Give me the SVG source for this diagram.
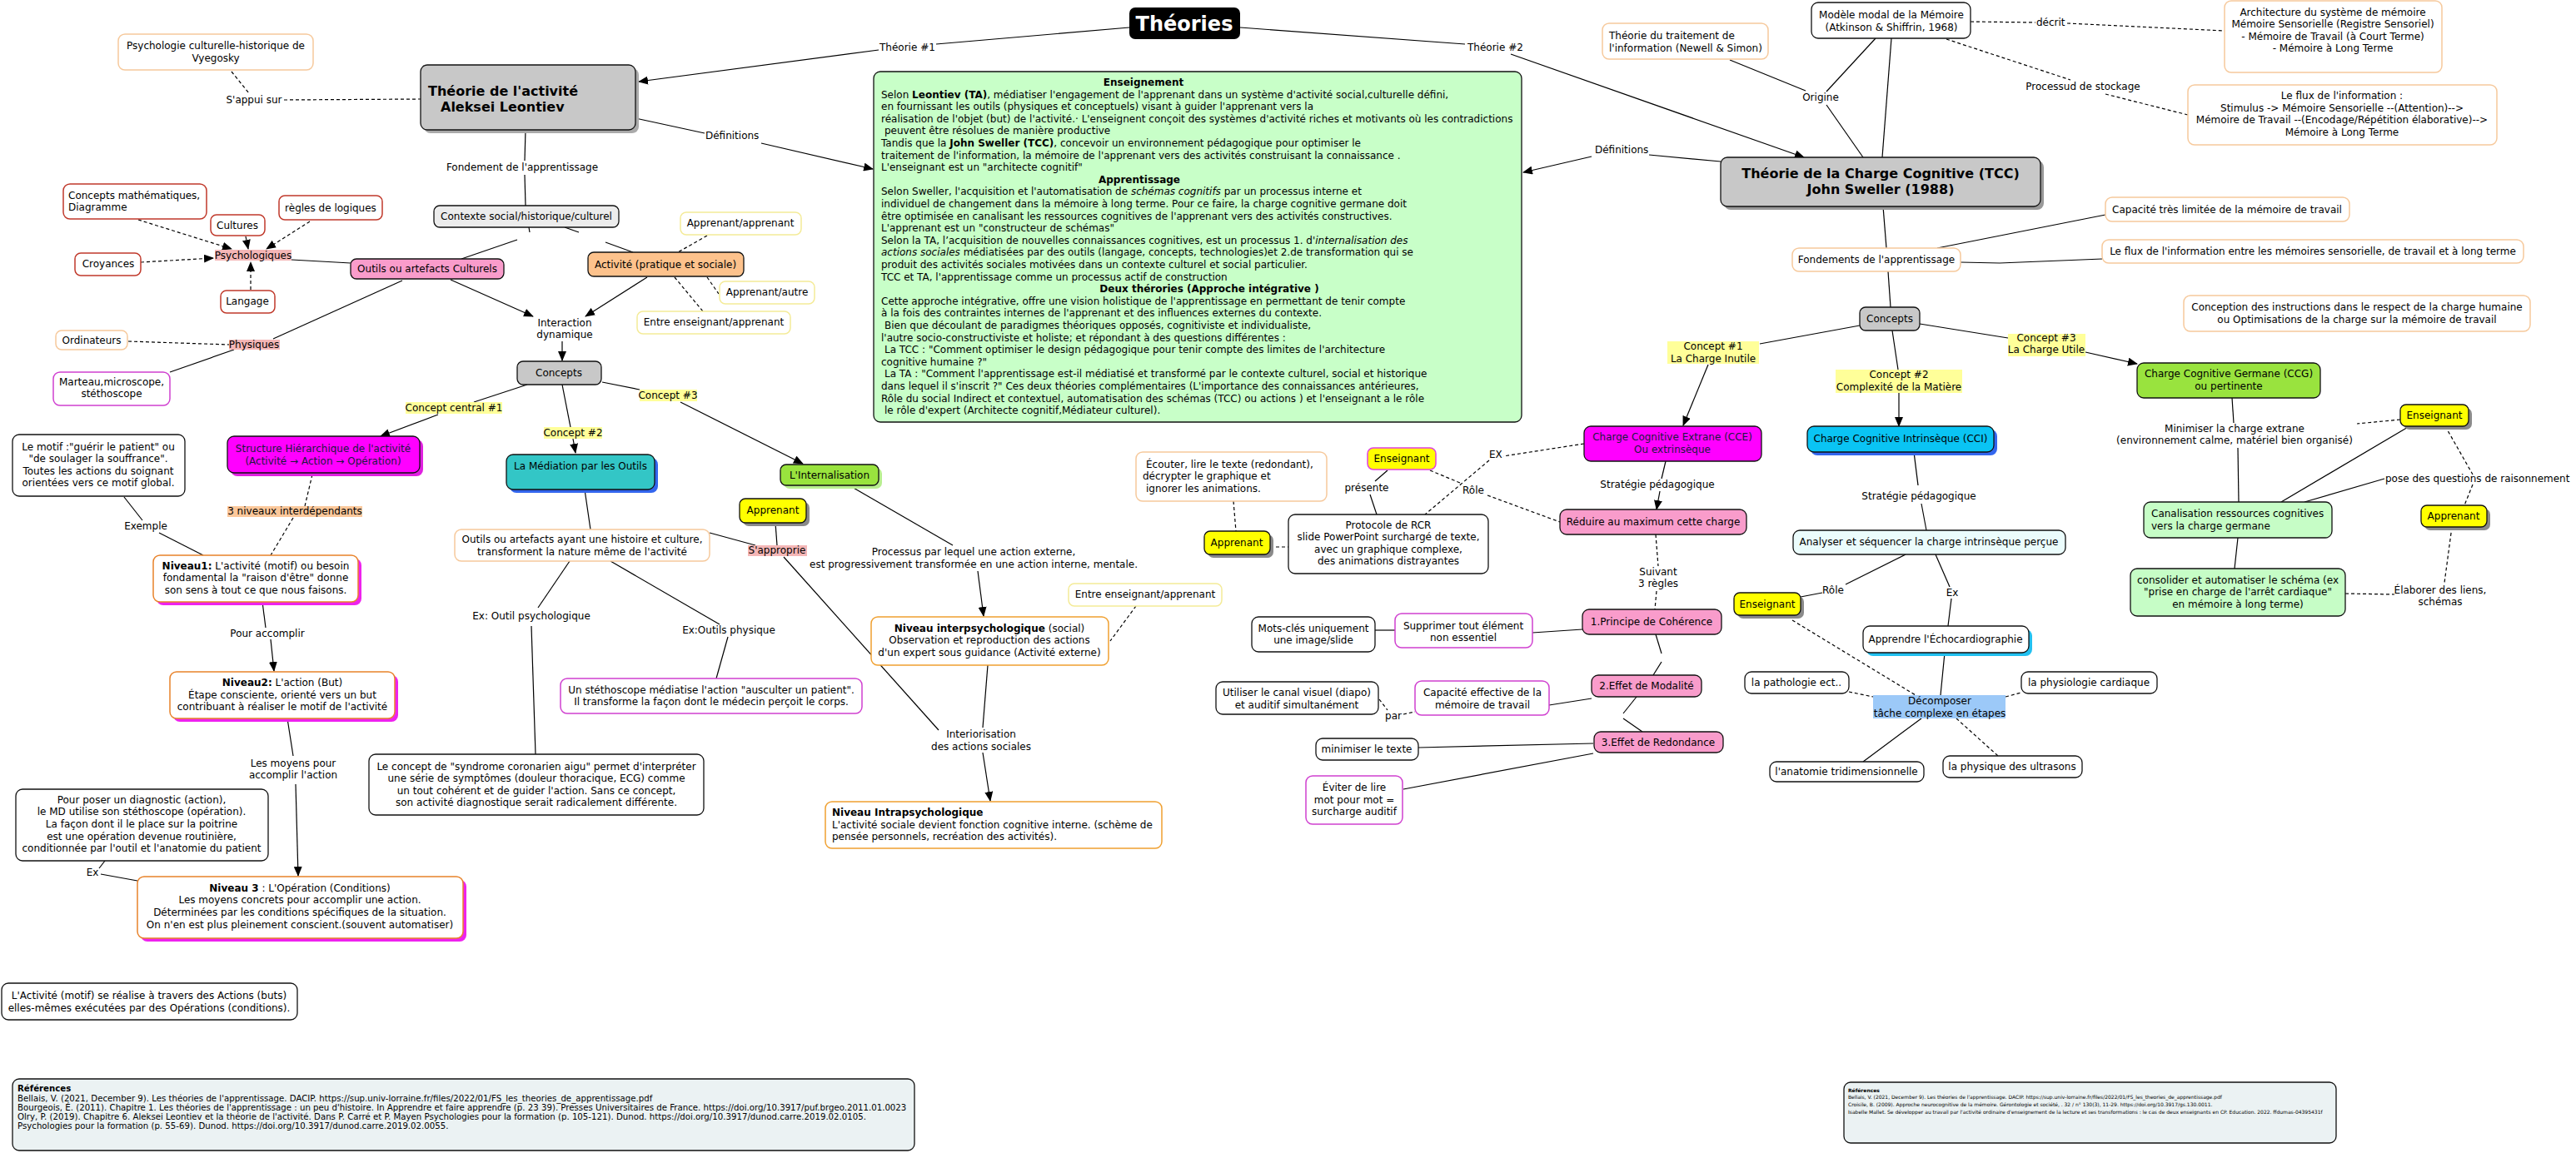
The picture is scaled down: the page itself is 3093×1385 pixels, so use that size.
<svg xmlns="http://www.w3.org/2000/svg" width="3093" height="1385" viewBox="0 0 3093 1385">
<defs>
<marker id="ah" markerUnits="userSpaceOnUse" markerWidth="12" markerHeight="10" refX="11" refY="5" orient="auto"><path d="M0,0 L12,5 L0,10 z" fill="#000"/></marker>
<style>
text{font-family:"DejaVu Sans",Verdana,sans-serif;font-size:12px;fill:#000}
.m{text-anchor:middle}
.b{font-weight:bold}
.i{font-style:italic}
.l{stroke:#000;stroke-width:1.2;fill:none}
.d{stroke:#000;stroke-width:1.2;fill:none;stroke-dasharray:4 3}
.a{marker-end:url(#ah)}
.k{fill:#fff;stroke:#111;stroke-width:1.3}
.o{fill:#fff;stroke:#f6c99c;stroke-width:1.5}
.y{fill:#fff;stroke:#f4eb98;stroke-width:1.5}
.r{fill:#fff;stroke:#c0392b;stroke-width:1.5}
.mg{fill:#fff;stroke:#d040d0;stroke-width:1.5}
.gr{fill:#c8c8c8;stroke:#111;stroke-width:1.3}
.pk{fill:#f99ccb;stroke:#111;stroke-width:1.3}
.yl{fill:#ffff00;stroke:#111;stroke-width:1.3}
.sh{fill:#8a8a8a}
.lbp{fill:#f4b6b6}
.lby{fill:#ffff99}
.lgt{fill:#c6fdc6;stroke:#111;stroke-width:1.3}
.nv{fill:#fff;stroke:#e8822a;stroke-width:1.5}
.ni{fill:#fff;stroke:#f0a030;stroke-width:1.5}
.ns{fill:#ee22ee}
.ref{fill:#ebf2f3;stroke:#111;stroke-width:1.3}
.rl{font-size:10.2px}
.rr{font-size:6px}
</style>
</defs>
<rect width="3093" height="1385" fill="#fff"/>

<g id="connectors">
<line class="l" x1="1356" y1="33" x2="1124" y2="53"/>
<line class="l a" x1="1055" y1="60" x2="767" y2="98"/>
<line class="l" x1="1489" y1="33" x2="1759" y2="53"/>
<line class="l a" x1="1814" y1="65" x2="2166" y2="189"/>
<line class="l" x1="763" y1="142" x2="846" y2="160"/>
<line class="l a" x1="914" y1="172" x2="1048" y2="203"/>
<line class="l" x1="2066" y1="194" x2="1980" y2="186"/>
<line class="l a" x1="1911" y1="188" x2="1829" y2="207"/>
<line class="d" x1="278" y1="86" x2="299" y2="112"/>
<line class="d" x1="341" y1="120" x2="505" y2="119"/>
<line class="l" x1="631" y1="156" x2="630" y2="193"/>
<line class="l" x1="630" y1="210" x2="631" y2="247"/>
<line class="d" x1="849" y1="283" x2="814" y2="303"/>
<line class="d" x1="849" y1="333" x2="863" y2="353"/>
<line class="d" x1="810" y1="333" x2="844" y2="374"/>
<line class="l" x1="635" y1="273" x2="636" y2="279"/>
<line class="l" x1="678" y1="273" x2="695" y2="279"/>
<line class="l" x1="621" y1="288" x2="554" y2="311"/>
<line class="l" x1="727" y1="291" x2="760" y2="303"/>
<line class="l" x1="421" y1="316" x2="350" y2="312"/>
<line class="d a" x1="166" y1="264" x2="278" y2="299"/>
<line class="d a" x1="295" y1="284" x2="298" y2="299"/>
<line class="d a" x1="372" y1="266" x2="320" y2="299"/>
<line class="d a" x1="169" y1="315" x2="256" y2="310"/>
<line class="d a" x1="301" y1="348" x2="301" y2="315"/>
<line class="l a" x1="541" y1="336" x2="640" y2="380"/>
<line class="l a" x1="777" y1="333" x2="703" y2="380"/>
<line class="l a" x1="675" y1="410" x2="675" y2="433"/>
<line class="d" x1="154" y1="410" x2="275" y2="414"/>
<line class="l" x1="483" y1="337" x2="328" y2="407"/>
<line class="l" x1="281" y1="420" x2="204" y2="447"/>
<line class="l" x1="633" y1="462" x2="569" y2="483"/>
<line class="l a" x1="526" y1="498" x2="457" y2="524"/>
<line class="l" x1="675" y1="462" x2="685" y2="513"/>
<line class="l a" x1="688" y1="527" x2="691" y2="544"/>
<line class="l" x1="723" y1="459" x2="768" y2="468"/>
<line class="l a" x1="817" y1="483" x2="964" y2="557"/>
<line class="l" x1="149" y1="597" x2="171" y2="625"/>
<line class="l" x1="191" y1="640" x2="244" y2="667"/>
<line class="d" x1="375" y1="570" x2="366" y2="608"/>
<line class="d" x1="352" y1="622" x2="325" y2="667"/>
<line class="l" x1="315" y1="723" x2="319" y2="754"/>
<line class="l a" x1="325" y1="768" x2="329" y2="806"/>
<line class="l" x1="345" y1="863" x2="352" y2="908"/>
<line class="l a" x1="355" y1="942" x2="358" y2="1052"/>
<line class="l" x1="126" y1="1034" x2="119" y2="1043"/>
<line class="l" x1="121" y1="1050" x2="165" y2="1058"/>
<line class="l" x1="702" y1="588" x2="709" y2="636"/>
<line class="l" x1="684" y1="674" x2="646" y2="730"/>
<line class="l" x1="638" y1="752" x2="643" y2="906"/>
<line class="l" x1="733" y1="674" x2="864" y2="750"/>
<line class="l" x1="874" y1="765" x2="860" y2="815"/>
<line class="l" x1="852" y1="640" x2="907" y2="655"/>
<line class="l" x1="931" y1="628" x2="933" y2="655"/>
<line class="l" x1="941" y1="669" x2="1127" y2="877"/>
<line class="l" x1="1023" y1="585" x2="1144" y2="655"/>
<line class="l a" x1="1174" y1="686" x2="1181" y2="740"/>
<line class="d" x1="1364" y1="728" x2="1333" y2="770"/>
<line class="l" x1="1186" y1="799" x2="1180" y2="874"/>
<line class="l a" x1="1180" y1="904" x2="1189" y2="962"/>
<line class="l" x1="2077" y1="72" x2="2168" y2="109"/>
<line class="l" x1="2252" y1="46" x2="2193" y2="110"/>
<line class="l" x1="2193" y1="126" x2="2237" y2="189"/>
<line class="l" x1="2271" y1="46" x2="2260" y2="189"/>
<line class="d" x1="2366" y1="26" x2="2444" y2="27"/>
<line class="d" x1="2482" y1="28" x2="2671" y2="37"/>
<line class="d" x1="2337" y1="47" x2="2486" y2="96"/>
<line class="d" x1="2528" y1="113" x2="2627" y2="138"/>
<line class="l" x1="2261" y1="248" x2="2265" y2="298"/>
<line class="l" x1="2326" y1="298" x2="2528" y2="258"/>
<polyline class="l" points="2354,315 2401,316 2524,311"/>
<line class="l" x1="2267" y1="326" x2="2270" y2="369"/>
<line class="l" x1="2233" y1="391" x2="2113" y2="413"/>
<line class="l a" x1="2051" y1="438" x2="2021" y2="511"/>
<line class="l" x1="2272" y1="397" x2="2279" y2="444"/>
<line class="l a" x1="2280" y1="472" x2="2280" y2="512"/>
<line class="l" x1="2305" y1="389" x2="2411" y2="406"/>
<line class="l a" x1="2504" y1="423" x2="2566" y2="437"/>
<line class="l" x1="2000" y1="554" x2="1995" y2="575"/>
<line class="l a" x1="1993" y1="590" x2="1989" y2="612"/>
<line class="d" x1="1988" y1="642" x2="1991" y2="680"/>
<line class="d" x1="1989" y1="710" x2="1987" y2="732"/>
<line class="l" x1="1900" y1="756" x2="1840" y2="760"/>
<line class="l" x1="1651" y1="757" x2="1675" y2="757"/>
<line class="l" x1="1988" y1="762" x2="1995" y2="785"/>
<line class="l" x1="1995" y1="795" x2="1985" y2="811"/>
<line class="l" x1="1911" y1="839" x2="1860" y2="847"/>
<line class="d" x1="1656" y1="840" x2="1666" y2="853"/>
<line class="d" x1="1685" y1="858" x2="1699" y2="855"/>
<line class="l" x1="1965" y1="837" x2="1949" y2="857"/>
<line class="l" x1="1949" y1="863" x2="1972" y2="879"/>
<line class="l" x1="1913" y1="893" x2="1703" y2="898"/>
<line class="l" x1="1913" y1="905" x2="1685" y2="948"/>
<line class="l" x1="1666" y1="565" x2="1651" y2="578"/>
<line class="l" x1="1645" y1="594" x2="1653" y2="618"/>
<line class="d" x1="1717" y1="565" x2="1753" y2="580"/>
<line class="d" x1="1786" y1="595" x2="1873" y2="627"/>
<line class="d" x1="1902" y1="533" x2="1805" y2="548"/>
<line class="d" x1="1788" y1="553" x2="1711" y2="618"/>
<line class="d" x1="1481" y1="602" x2="1484" y2="638"/>
<line class="d" x1="1525" y1="657" x2="1547" y2="657"/>
<line class="l" x1="2298" y1="543" x2="2303" y2="583"/>
<line class="l" x1="2307" y1="605" x2="2313" y2="637"/>
<line class="l" x1="2680" y1="478" x2="2682" y2="508"/>
<line class="l" x1="2687" y1="538" x2="2688" y2="603"/>
<line class="l" x1="2893" y1="512" x2="2739" y2="603"/>
<line class="l" x1="2863" y1="575" x2="2767" y2="603"/>
<line class="d" x1="2882" y1="504" x2="2830" y2="509"/>
<line class="d" x1="2936" y1="512" x2="2969" y2="570"/>
<line class="d" x1="2969" y1="582" x2="2959" y2="607"/>
<line class="l" x1="2687" y1="646" x2="2683" y2="683"/>
<line class="d" x1="2816" y1="713" x2="2875" y2="714"/>
<line class="d" x1="2944" y1="633" x2="2935" y2="700"/>
<line class="l" x1="2288" y1="666" x2="2216" y2="702"/>
<line class="l" x1="2188" y1="712" x2="2162" y2="717"/>
<line class="l" x1="2324" y1="666" x2="2341" y2="705"/>
<line class="l" x1="2343" y1="719" x2="2339" y2="752"/>
<line class="l" x1="2335" y1="784" x2="2330" y2="835"/>
<line class="d" x1="2152" y1="745" x2="2300" y2="835"/>
<line class="d" x1="2220" y1="831" x2="2249" y2="837"/>
<line class="d" x1="2408" y1="837" x2="2427" y2="832"/>
<line class="l" x1="2307" y1="863" x2="2237" y2="915"/>
<line class="d" x1="2349" y1="863" x2="2399" y2="908"/>
</g>

<g id="labels">
<text x="1056" y="61">Théorie #1</text>
<text x="1762" y="61">Théorie #2</text>
<text x="847" y="167">Définitions</text>
<text x="1915" y="184">Définitions</text>
<text class="m" x="305" y="124">S'appui sur</text>
<text class="m" x="627" y="205">Fondement de l'apprentissage</text>
<text class="m" x="678" y="392">Interaction</text>
<text class="m" x="678" y="406">dynamique</text>
<text class="m" x="175" y="636">Exemple</text>
<text class="m" x="321" y="765">Pour accomplir</text>
<text class="m" x="352" y="921">Les moyens pour</text>
<text class="m" x="352" y="935">accomplir l'action</text>
<text class="m" x="111" y="1052">Ex</text>
<text class="m" x="638" y="744">Ex: Outil psychologique</text>
<text class="m" x="875" y="761">Ex:Outils physique</text>
<text class="m" x="1169" y="667">Processus par lequel une action externe,</text>
<text class="m" x="1169" y="682">est progressivement transformée en une action interne, mentale.</text>
<text class="m" x="1178" y="886">Interiorisation</text>
<text class="m" x="1178" y="901">des actions sociales</text>
<text class="m" x="2186" y="121">Origine</text>
<text x="2445" y="31">décrit</text>
<text class="m" x="2501" y="108">Processud de stockage</text>
<text class="m" x="1990" y="586">Stratégie pédagogique</text>
<text class="m" x="1991" y="691">Suivant</text>
<text class="m" x="1991" y="705">3 règles</text>
<text class="m" x="1641" y="590">présente</text>
<text x="1756" y="593">Rôle</text>
<text x="1788" y="550">EX</text>
<text class="m" x="1673" y="864">par</text>
<text class="m" x="2304" y="600">Stratégie pédagogique</text>
<text class="m" x="2683" y="519">Minimiser la charge extrane</text>
<text class="m" x="2683" y="533">(environnement calme, matériel bien organisé)</text>
<text x="2864" y="579">pose des questions de raisonnement</text>
<text class="m" x="2930" y="713">Élaborer des liens,</text>
<text class="m" x="2930" y="727">schémas</text>
<text x="2188" y="713">Rôle</text>
<text class="m" x="2344" y="716">Ex</text>
</g>

<g id="n-theories"><rect x="1356" y="9" width="133" height="38" rx="7" fill="#000"/><text class="m b" x="1422" y="37" style="font-size:24px;fill:#fff">Théories</text></g>
<g id="n-psych-culturelle"><rect class="o" x="142" y="41" width="234" height="43" rx="8"/><text class="m" x="259" y="59">Psychologie culturelle-historique  de</text><text class="m" x="259" y="74">Vyegosky</text></g>
<g id="n-theorie-activite"><rect x="509" y="82" width="258" height="78" rx="8" fill="#aaa"/><rect class="gr" x="505" y="78" width="258" height="78" rx="8"/><text class="b" x="514" y="115" style="font-size:16px">Théorie de l'activité</text><text class="b" x="529" y="134" style="font-size:16px">Aleksei Leontiev</text></g>
<g id="n-contexte"><rect x="521" y="247" width="222" height="26" rx="7" fill="#ececec" stroke="#111" stroke-width="1.3"/><text class="m" x="632" y="264">Contexte social/historique/culturel</text></g>
<g id="n-app-app"><rect class="y" x="817" y="255" width="145" height="27" rx="7"/><text class="m" x="889" y="272">Apprenant/apprenant</text></g>
<g id="n-activite"><rect x="706" y="303" width="187" height="29" rx="7" fill="#fdc28c" stroke="#111" stroke-width="1.3"/><text class="m" x="799" y="322">Activité (pratique et sociale)</text></g>
<g id="n-app-autre"><rect class="y" x="864" y="338" width="114" height="27" rx="7"/><text class="m" x="921" y="355">Apprenant/autre</text></g>
<g id="n-entre1"><rect class="y" x="765" y="374" width="184" height="27" rx="7"/><text class="m" x="857" y="391">Entre enseignant/apprenant</text></g>
<g id="n-outils-culturels"><rect class="pk" x="421" y="311" width="184" height="24" rx="7"/><text class="m" x="513" y="327">Outils ou artefacts Culturels</text></g>
<g id="n-psychologiques"><rect class="lbp" x="258" y="300" width="92" height="13"/><text class="m" x="304" y="311">Psychologiques</text></g>
<g id="n-concepts-math"><rect class="r" x="76" y="221" width="172" height="42" rx="8"/><text x="82" y="239">Concepts mathématiques,</text><text x="82" y="253">Diagramme</text></g>
<g id="n-cultures"><rect class="r" x="253" y="258" width="65" height="25" rx="7"/><text class="m" x="285" y="275">Cultures</text></g>
<g id="n-regles"><rect class="r" x="335" y="235" width="124" height="29" rx="7"/><text class="m" x="397" y="254">règles de logiques</text></g>
<g id="n-croyances"><rect class="r" x="90" y="304" width="79" height="27" rx="7"/><text class="m" x="130" y="321">Croyances</text></g>
<g id="n-langage"><rect class="r" x="265" y="349" width="65" height="27" rx="7"/><text class="m" x="297" y="366">Langage</text></g>
<g id="n-ordinateurs"><rect class="o" x="67" y="397" width="86" height="23" rx="7"/><text class="m" x="110" y="413">Ordinateurs</text></g>
<g id="n-physiques"><rect class="lbp" x="275" y="408" width="61" height="12"/><text class="m" x="305" y="418">Physiques</text></g>
<g id="n-marteau"><rect class="mg" x="64" y="447" width="140" height="40" rx="8"/><text class="m" x="134" y="463">Marteau,microscope,</text><text class="m" x="134" y="477">stéthoscope</text></g>
<g id="n-concepts-l"><rect class="gr" x="621" y="434" width="101" height="28" rx="7"/><text class="m" x="671" y="452">Concepts</text></g>
<g id="n-cc1"><rect class="lby" x="487" y="483" width="116" height="14"/><text class="m" x="545" y="494">Concept central #1</text></g>
<g id="n-structure"><rect x="277" y="528" width="231" height="44" rx="8" fill="#e020e0"/><rect x="273" y="524" width="231" height="44" rx="8" fill="#ff00ff" stroke="#111" stroke-width="1.3"/><text class="m" x="388" y="543" style="fill:#1a1a40">Structure Hiérarchique de l'activité</text><text class="m" x="388" y="558" style="fill:#1a1a40">(Activité → Action → Opération)</text></g>
<g id="n-c2"><rect class="lby" x="653" y="513" width="70" height="14"/><text class="m" x="688" y="524">Concept #2</text></g>
<g id="n-mediation"><rect x="612" y="550" width="178" height="42" rx="8" fill="#3366ee"/><rect x="608" y="546" width="178" height="42" rx="8" fill="#33c6c6" stroke="#111" stroke-width="1.3"/><text class="m" x="697" y="564">La Médiation par les Outils</text></g>
<g id="n-c3"><rect class="lby" x="768" y="468" width="69" height="14"/><text class="m" x="802" y="479">Concept #3</text></g>
<g id="n-internalisation"><rect x="941" y="562" width="118" height="25" rx="7" fill="#b8ee90"/><rect x="937" y="558" width="118" height="25" rx="7" fill="#99e33e" stroke="#111" stroke-width="1.3"/><text class="m" x="996" y="575">L'Internalisation</text></g>
<g id="n-motif"><rect class="k" x="15" y="522" width="207" height="74" rx="8"/><text class="m" x="118" y="541">Le motif :"guérir le patient" ou</text><text class="m" x="118" y="555">"de soulager la souffrance".</text><text class="m" x="118" y="570">Toutes les actions du soignant</text><text class="m" x="118" y="584">orientées vers ce motif global.</text></g>
<g id="n-3niveaux"><rect x="273" y="608" width="162" height="13" fill="#fcc89b"/><text class="m" x="354" y="618">3 niveaux interdépendants</text></g>
<g id="n-niveau1"><rect class="ns" x="188" y="671" width="246" height="56" rx="8"/><rect class="nv" x="184" y="667" width="246" height="56" rx="8"/><text class="m" x="307" y="684"><tspan class="b">Niveau1:</tspan> L'activité (motif) ou besoin</text><text class="m" x="307" y="698">fondamental la "raison d'être" donne</text><text class="m" x="307" y="713">son sens à tout ce que nous faisons.</text></g>
<g id="n-niveau2"><rect class="ns" x="208" y="811" width="270" height="56" rx="8"/><rect class="nv" x="204" y="807" width="270" height="56" rx="8"/><text class="m" x="339" y="824"><tspan class="b">Niveau2:</tspan> L'action (But)</text><text class="m" x="339" y="839">Étape consciente, orienté vers un but</text><text class="m" x="339" y="853">contribuant à réaliser le motif de l'activité</text></g>
<g id="n-niveau3"><rect class="ns" x="169" y="1057" width="391" height="74" rx="8"/><rect class="nv" x="165" y="1053" width="391" height="74" rx="8"/><text class="m" x="360" y="1071"><tspan class="b">Niveau 3</tspan> : L'Opération (Conditions)</text><text class="m" x="360" y="1085">Les moyens concrets pour accomplir une action.</text><text class="m" x="360" y="1100">Déterminées par les conditions spécifiques de la situation.</text><text class="m" x="360" y="1115">On n'en est plus pleinement conscient.(souvent automatiser)</text></g>
<g id="n-diagnostic"><rect class="k" x="19" y="948" width="303" height="86" rx="8"/><text class="m" x="170" y="965">Pour poser un diagnostic (action),</text><text class="m" x="170" y="979">le MD utilise son stéthoscope (opération).</text><text class="m" x="170" y="994">La façon dont il le place sur la poitrine</text><text class="m" x="170" y="1009">est une opération devenue routinière,</text><text class="m" x="170" y="1023">conditionnée par l'outil et l'anatomie du patient</text></g>
<g id="n-activite-motif"><rect class="k" x="2" y="1181" width="355" height="44" rx="8"/><text class="m" x="179" y="1200">L'Activité (motif) se réalise à travers des Actions (buts)</text><text class="m" x="179" y="1215">elles-mêmes exécutées par des Opérations (conditions).</text></g>
<g id="n-refs-left"><rect class="ref" x="15" y="1296" width="1083" height="86" rx="8"/>
<text class="b rl" x="21" y="1311">Références</text>
<text class="rl" x="21" y="1323">Bellais, V. (2021, December 9). Les théories de l'apprentissage. DACIP.  https://sup.univ-lorraine.fr/files/2022/01/FS_les_theories_de_apprentissage.pdf</text>
<text class="rl" x="21" y="1334">Bourgeois, É. (2011). Chapitre 1. Les théories de l'apprentissage : un peu d'histoire. In Apprendre et faire apprendre (p. 23 39). Presses Universitaires de France. https://doi.org/10.3917/puf.brgeo.2011.01.0023</text>
<text class="rl" x="21" y="1345">Olry, P. (2019). Chapitre 6. Aleksei Leontiev et la théorie de l'activité. Dans P. Carré et P. Mayen Psychologies pour la formation (p. 105-121). Dunod. https://doi.org/10.3917/dunod.carre.2019.02.0105.</text>
<text class="rl" x="21" y="1356">Psychologies pour la formation (p. 55-69). Dunod. https://doi.org/10.3917/dunod.carre.2019.02.0055.</text></g>

<g id="n-outils-histoire"><rect class="o" x="546" y="636" width="306" height="38" rx="8"/><text class="m" x="699" y="652">Outils ou artefacts ayant une histoire et culture,</text><text class="m" x="699" y="667">transforment la nature même de l'activité</text></g>
<g id="n-syndrome"><rect class="k" x="443" y="906" width="402" height="73" rx="8"/><text class="m" x="644" y="925">Le concept de "syndrome coronarien aigu" permet d'interpréter</text><text class="m" x="644" y="939">une série de symptômes (douleur thoracique, ECG) comme</text><text class="m" x="644" y="954">un tout cohérent et de guider l'action. Sans ce concept,</text><text class="m" x="644" y="968">son activité diagnostique serait radicalement différente.</text></g>
<g id="n-stethoscope"><rect class="mg" x="673" y="815" width="362" height="42" rx="8"/><text class="m" x="854" y="833">Un stéthoscope médiatise l'action "ausculter un patient".</text><text class="m" x="854" y="847">Il transforme la façon dont le médecin perçoit le corps.</text></g>
<g id="n-apprenant1"><rect class="sh" x="892" y="603" width="80" height="29" rx="7"/><rect class="yl" x="888" y="599" width="80" height="29" rx="7"/><text class="m" x="928" y="617">Apprenant</text></g>
<g id="n-sapproprie"><rect class="lbp" x="898" y="655" width="71" height="13"/><text class="m" x="933" y="665">S'approprie</text></g>
<g id="n-entre2"><rect class="y" x="1283" y="701" width="184" height="27" rx="7"/><text class="m" x="1375" y="718">Entre enseignant/apprenant</text></g>
<g id="n-interpsy"><rect class="ni" x="1046" y="741" width="285" height="58" rx="8"/><text class="m" x="1188" y="759"><tspan class="b">Niveau interpsychologique</tspan> (social)</text><text class="m" x="1188" y="773">Observation et reproduction des actions</text><text class="m" x="1188" y="788">d'un expert sous guidance (Activité externe)</text></g>
<g id="n-intrapsy"><rect class="ni" x="991" y="963" width="404" height="56" rx="8"/><text class="b" x="999" y="980">Niveau Intrapsychologique</text><text x="999" y="995">L'activité sociale devient fonction cognitive interne. (schème de</text><text x="999" y="1009">pensée personnels, recréation des activités).</text></g>

<g id="n-definitions-box"><rect x="1049" y="86" width="778" height="421" rx="8" fill="#c8ffc8" stroke="#111" stroke-width="1.3"/>
<text class="m b" x="1373" y="103">Enseignement</text>
<text x="1058" y="117.6">Selon <tspan class="b">Leontiev (TA)</tspan>, médiatiser l'engagement de l'apprenant dans un système d'activité social,culturelle défini,</text>
<text x="1058" y="132.2">en fournissant les outils (physiques et conceptuels) visant à guider l'apprenant vers la</text>
<text x="1058" y="146.8">réalisation de l'objet (but) de l'activité.· L'enseignent conçoit des systèmes d'activité riches et motivants où les contradictions</text>
<text x="1062" y="161.4">peuvent être résolues de manière productive</text>
<text x="1058" y="176">Tandis que la <tspan class="b">John Sweller (TCC)</tspan>, concevoir un environnement pédagogique pour optimiser le</text>
<text x="1058" y="190.6">traitement de l'information, la mémoire de l'apprenant vers des activités construisant la connaissance .</text>
<text x="1058" y="205.2">L'enseignant est un "architecte cognitif"</text>
<text class="m b" x="1368" y="219.8">Apprentissage</text>
<text x="1058" y="234.4">Selon Sweller, l'acquisition et l'automatisation de <tspan class="i">schémas cognitifs</tspan> par un processus interne et</text>
<text x="1058" y="249">individuel de changement dans la mémoire à long terme. Pour ce faire, la charge cognitive germane doit</text>
<text x="1058" y="263.6">être optimisée  en canalisant les ressources cognitives de l'apprenant vers des activités constructives.</text>
<text x="1058" y="278.2">L'apprenant  est un "constructeur de schémas"</text>
<text x="1058" y="292.8">Selon la TA, l’acquisition de nouvelles connaissances cognitives, est un processus 1. d'<tspan class="i">internalisation des</tspan></text>
<text x="1058" y="307.4"><tspan class="i">actions sociales</tspan> médiatisées par des outils (langage, concepts, technologies)et 2.de transformation qui se</text>
<text x="1058" y="322">produit des activités sociales motivées dans un contexte culturel et social particulier.</text>
<text x="1058" y="336.6">TCC et TA, l'apprentissage comme un processus actif de construction</text>
<text class="m b" x="1452" y="351.2">Deux thérories (Approche intégrative )</text>
<text x="1058" y="365.8">Cette approche intégrative, offre une vision holistique de l'apprentissage en permettant de tenir compte</text>
<text x="1058" y="380.4">à la fois des contraintes internes de l'apprenant et des influences externes du contexte.</text>
<text x="1062" y="395">Bien que découlant de paradigmes théoriques opposés, cognitiviste et individualiste,</text>
<text x="1058" y="409.6">l'autre socio-constructiviste et holiste; et répondant à des questions différentes :</text>
<text x="1062" y="424.2">La TCC  : "Comment optimiser le design pédagogique pour tenir compte des limites de l'architecture</text>
<text x="1058" y="438.8">cognitive humaine ?"</text>
<text x="1062" y="453.4">La TA : "Comment l'apprentissage est-il médiatisé et transformé par le contexte culturel, social et historique</text>
<text x="1058" y="468">dans lequel il s'inscrit ?" Ces deux théories complémentaires (L'importance des connaissances antérieures,</text>
<text x="1058" y="482.6">Rôle du social Indirect et contextuel, automatisation des schémas (TCC) ou actions ) et l'enseignant a le rôle</text>
<text x="1062" y="497.2">le rôle d'expert (Architecte cognitif,Médiateur culturel).</text>
</g>

<g id="n-modele"><rect class="k" x="2175" y="3" width="191" height="43" rx="8"/><text class="m" x="2271" y="22">Modèle modal de la Mémoire</text><text class="m" x="2271" y="37">(Atkinson &amp; Shiffrin, 1968)</text></g>
<g id="n-traitement"><rect class="o" x="1924" y="28" width="199" height="43" rx="8"/><text x="1932" y="47">Théorie du traitement de</text><text x="1932" y="62">l'information (Newell &amp; Simon)</text></g>
<g id="n-architecture"><rect class="o" x="2671" y="1" width="261" height="86" rx="8"/><text class="m" x="2801" y="19">Architecture du système de mémoire</text><text class="m" x="2801" y="33">Mémoire Sensorielle (Registre Sensoriel)</text><text class="m" x="2801" y="48">- Mémoire de Travail (à Court Terme)</text><text class="m" x="2801" y="62">- Mémoire à Long Terme</text></g>
<g id="n-flux"><rect class="o" x="2627" y="102" width="371" height="72" rx="8"/><text class="m" x="2812" y="119">Le flux de l'information :</text><text class="m" x="2812" y="134">Stimulus -&gt; Mémoire Sensorielle --(Attention)--&gt;</text><text class="m" x="2812" y="148">Mémoire de Travail --(Encodage/Répétition élaborative)--&gt;</text><text class="m" x="2812" y="163">Mémoire à Long Terme</text></g>
<g id="n-tcc"><rect x="2070" y="193" width="384" height="59" rx="8" fill="#999"/><rect class="gr" x="2066" y="189" width="384" height="59" rx="8"/><text class="m b" x="2258" y="214" style="font-size:16px">Théorie de la Charge Cognitive (TCC)</text><text class="m b" x="2258" y="233" style="font-size:16px">John Sweller (1988)</text></g>
<g id="n-capacite-limitee"><rect class="o" x="2528" y="237" width="293" height="29" rx="8"/><text class="m" x="2674" y="256">Capacité très limitée de la mémoire de travail</text></g>
<g id="n-fondements"><rect class="o" x="2152" y="298" width="202" height="28" rx="8"/><text class="m" x="2253" y="316">Fondements de l'apprentissage</text></g>
<g id="n-flux-entre"><rect class="o" x="2524" y="288" width="506" height="28" rx="8"/><text class="m" x="2777" y="306">Le flux de l'information entre les mémoires sensorielle, de travail et à long terme</text></g>
<g id="n-conception"><rect class="o" x="2622" y="355" width="416" height="43" rx="8"/><text class="m" x="2830" y="373">Conception des instructions dans le respect de la charge humaine</text><text class="m" x="2830" y="388">ou Optimisations de la charge sur la mémoire de travail</text></g>
<g id="n-concepts-r"><rect class="gr" x="2233" y="369" width="72" height="28" rx="7"/><text class="m" x="2269" y="387">Concepts</text></g>
<g id="n-rc1"><rect class="lby" x="2002" y="410" width="110" height="27"/><text class="m" x="2057" y="420">Concept #1</text><text class="m" x="2057" y="435">La Charge Inutile</text></g>
<g id="n-rc2"><rect class="lby" x="2204" y="444" width="152" height="28"/><text class="m" x="2280" y="454">Concept #2</text><text class="m" x="2280" y="469">Complexité de la Matière</text></g>
<g id="n-rc3"><rect class="lby" x="2411" y="401" width="93" height="27"/><text class="m" x="2457" y="410">Concept #3</text><text class="m" x="2457" y="424">La Charge Utile</text></g>
<g id="n-cce"><rect x="1902" y="512" width="213" height="42" rx="8" fill="#ff00ff" stroke="#111" stroke-width="1.3"/><text class="m" x="2008" y="529" style="fill:#1a1a40">Charge Cognitive Extrane (CCE)</text><text class="m" x="2008" y="544" style="fill:#1a1a40">Ou extrinsèque</text></g>
<g id="n-cci"><rect x="2174" y="516" width="224" height="31" rx="8" fill="#3366ee"/><rect x="2170" y="512" width="224" height="31" rx="8" fill="#0ac4f4" stroke="#111" stroke-width="1.3"/><text class="m" x="2282" y="531">Charge Cognitive Intrinsèque (CCI)</text></g>
<g id="n-ccg"><rect x="2566" y="436" width="220" height="42" rx="8" fill="#99e33e" stroke="#111" stroke-width="1.3"/><text class="m" x="2676" y="453">Charge Cognitive Germane (CCG)</text><text class="m" x="2676" y="468">ou pertinente</text></g>
<g id="n-reduire"><rect class="pk" x="1873" y="612" width="224" height="30" rx="8"/><text class="m" x="1985" y="631">Réduire au maximum cette charge</text></g>
<g id="n-coherence"><rect class="pk" x="1900" y="732" width="167" height="30" rx="8"/><text class="m" x="1983" y="751">1.Principe de Cohérence</text></g>
<g id="n-supprimer"><rect class="mg" x="1675" y="737" width="165" height="41" rx="8"/><text class="m" x="1757" y="756">Supprimer tout élément</text><text class="m" x="1757" y="770">non essentiel</text></g>
<g id="n-motscles"><rect class="k" x="1503" y="741" width="148" height="42" rx="8"/><text class="m" x="1577" y="759">Mots-clés uniquement</text><text class="m" x="1577" y="773">une image/slide</text></g>
<g id="n-modalite"><rect class="pk" x="1911" y="811" width="132" height="26" rx="8"/><text class="m" x="1977" y="828">2.Effet de Modalité</text></g>
<g id="n-capacite-effective"><rect class="mg" x="1699" y="818" width="161" height="41" rx="8"/><text class="m" x="1780" y="836">Capacité effective de la</text><text class="m" x="1780" y="851">mémoire de travail</text></g>
<g id="n-canal"><rect class="k" x="1460" y="819" width="195" height="39" rx="8"/><text class="m" x="1557" y="836">Utiliser le canal visuel (diapo)</text><text class="m" x="1557" y="851">et auditif simultanément</text></g>
<g id="n-redondance"><rect class="pk" x="1914" y="879" width="155" height="25" rx="8"/><text class="m" x="1991" y="896">3.Effet de Redondance</text></g>
<g id="n-minimiser"><rect class="k" x="1580" y="887" width="123" height="26" rx="8"/><text class="m" x="1641" y="904">minimiser le texte</text></g>
<g id="n-eviter"><rect class="mg" x="1568" y="932" width="116" height="58" rx="8"/><text class="m" x="1626" y="950">Éviter de lire</text><text class="m" x="1626" y="965">mot pour mot =</text><text class="m" x="1626" y="979">surcharge auditif</text></g>
<g id="n-enseignant1"><rect x="1642" y="538" width="82" height="26" rx="7" fill="#ffff00" stroke="#e040e0" stroke-width="1.5"/><text class="m" x="1683" y="555">Enseignant</text></g>
<g id="n-ecouter"><rect class="o" x="1364" y="543" width="229" height="59" rx="8"/><text x="1376" y="562">Écouter, lire le texte (redondant),</text><text x="1372" y="576">décrypter le graphique et</text><text x="1376" y="591">ignorer les animations.</text></g>
<g id="n-apprenant2"><rect class="sh" x="1450" y="642" width="79" height="28" rx="7"/><rect class="yl" x="1446" y="638" width="79" height="28" rx="7"/><text class="m" x="1485" y="656">Apprenant</text></g>
<g id="n-protocole"><rect class="k" x="1547" y="618" width="240" height="71" rx="8"/><text class="m" x="1667" y="635">Protocole de RCR</text><text class="m" x="1667" y="649">slide PowerPoint surchargé de texte,</text><text class="m" x="1667" y="664">avec un graphique complexe,</text><text class="m" x="1667" y="678">des animations distrayantes</text></g>
<g id="n-analyser"><rect x="2153" y="637" width="327" height="29" rx="8" fill="#ebfcfc" stroke="#111" stroke-width="1.3"/><text class="m" x="2316" y="655">Analyser et séquencer la charge intrinsèque perçue</text></g>
<g id="n-enseignant2"><rect class="sh" x="2886" y="490" width="82" height="26" rx="7"/><rect class="yl" x="2882" y="486" width="82" height="26" rx="7"/><text class="m" x="2923" y="503">Enseignant</text></g>
<g id="n-apprenant3"><rect class="sh" x="2911" y="611" width="79" height="26" rx="7"/><rect class="yl" x="2907" y="607" width="79" height="26" rx="7"/><text class="m" x="2946" y="624">Apprenant</text></g>
<g id="n-canalisation"><rect class="lgt" x="2574" y="603" width="226" height="43" rx="8"/><text x="2583" y="621">Canalisation ressources cognitives</text><text x="2583" y="636">vers la charge germane</text></g>
<g id="n-consolider"><rect class="lgt" x="2558" y="683" width="258" height="57" rx="8"/><text class="m" x="2687" y="701">consolider et automatiser le schéma (ex</text><text class="m" x="2687" y="715">"prise en charge de l'arrêt cardiaque"</text><text class="m" x="2687" y="730">en mémoire à long terme)</text></g>
<g id="n-enseignant3"><rect class="sh" x="2086" y="716" width="80" height="27" rx="7"/><rect class="yl" x="2082" y="712" width="80" height="27" rx="7"/><text class="m" x="2122" y="730">Enseignant</text></g>
<g id="n-echo"><rect x="2241" y="756" width="199" height="32" rx="8" fill="#22c0f0"/><rect class="k" x="2237" y="752" width="199" height="32" rx="8"/><text class="m" x="2336" y="772">Apprendre l'Échocardiographie</text></g>
<g id="n-decomposer"><rect x="2249" y="835" width="159" height="28" fill="#9cc9f8"/><text class="m" x="2329" y="846">Décomposer</text><text class="m" x="2329" y="861">tâche complexe en étapes</text></g>
<g id="n-pathologie"><rect class="k" x="2095" y="807" width="125" height="26" rx="8"/><text class="m" x="2157" y="824">la pathologie ect..</text></g>
<g id="n-physiologie"><rect class="k" x="2427" y="807" width="163" height="26" rx="8"/><text class="m" x="2508" y="824">la physiologie cardiaque</text></g>
<g id="n-anatomie"><rect class="k" x="2125" y="915" width="185" height="24" rx="8"/><text class="m" x="2217" y="931">l'anatomie tridimensionnelle</text></g>
<g id="n-ultrasons"><rect class="k" x="2333" y="908" width="167" height="26" rx="8"/><text class="m" x="2416" y="925">la physique des ultrasons</text></g>
<g id="n-refs-right"><rect class="ref" x="2214" y="1300" width="591" height="73" rx="8"/>
<text class="b rr" x="2219" y="1312">Références</text>
<text class="rr" x="2219" y="1320">Bellais, V. (2021, December 9). Les théories de l'apprentissage. DACIP.  https://sup.univ-lorraine.fr/files/2022/01/FS_les_theories_de_apprentissage.pdf</text>
<text class="rr" x="2219" y="1329">Croisile, B. (2009). Approche neurocognitive de la mémoire. Gérontologie et société, . 32 / n° 130(3), 11-29. https://doi.org/10.3917/gs.130.0011.</text>
<text class="rr" x="2219" y="1338">Isabelle Mallet. Se développer au travail par l'activité ordinaire d'enseignement de la lecture et ses transformations : le cas de deux enseignants en CP. Education. 2022. ffdumas-04395431f</text></g>
</svg>
